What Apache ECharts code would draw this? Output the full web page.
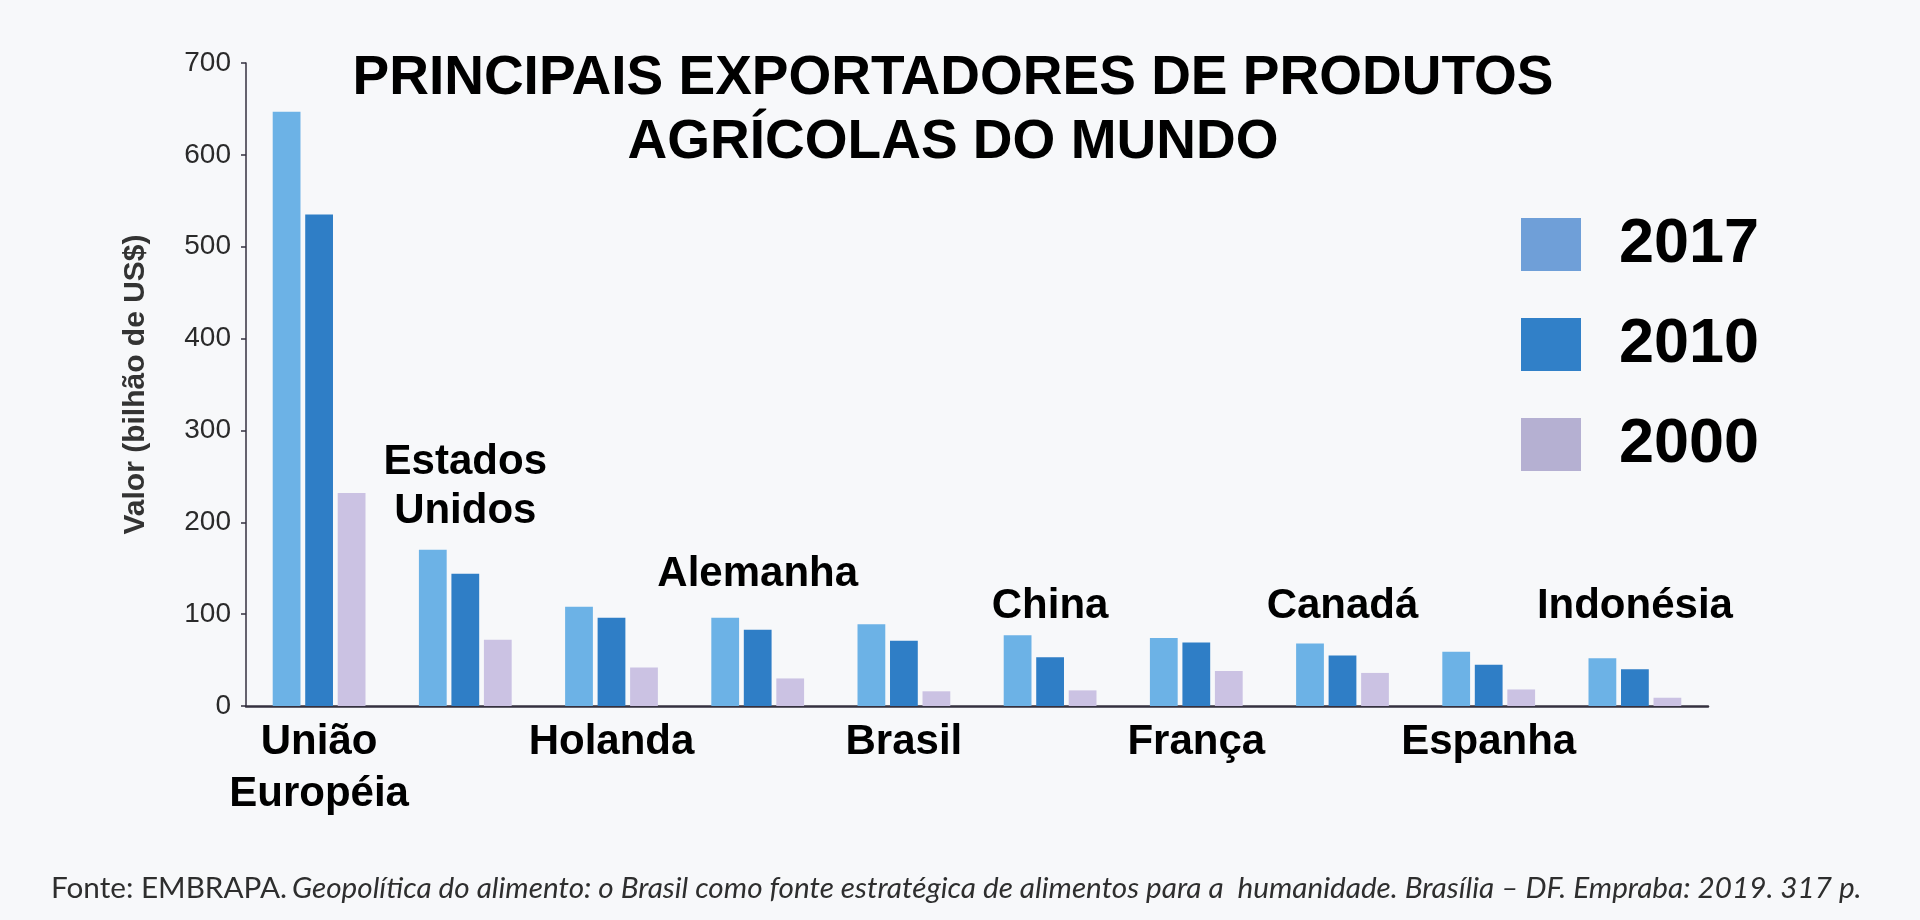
<!DOCTYPE html>
<html lang="pt-BR">
<head>
    <meta charset="UTF-8">
    <title>Principais exportadores de produtos agrícolas do mundo</title>
    <script src="https://cdn.jsdelivr.net/npm/echarts@6/dist/echarts.min.js"></script>
    <style>
        html, body {
            margin: 0;
            padding: 0;
            background-color: #f7f8fa;
        }

        #chart {
            width: 1920px;
            height: 920px;
        }
    </style>
</head>
<body>

<div id="chart"></div>

<script>
    // categorias (países / blocos)
    const paises = ['União Européia', 'Estados Unidos', 'Holanda', 'Alemanha', 'Brasil',
        'China', 'França', 'Canadá', 'Espanha', 'Indonésia'];

    // valores em bilhão de US$
    const valores2017 = [647, 170, 108, 96, 89, 77, 74, 68, 59, 52];
    const valores2010 = [535, 144, 96, 83, 71, 53, 69, 55, 45, 40];
    const valores2000 = [232, 72, 42, 30, 16, 17, 38, 36, 18, 9];

    const anos = ['2017', '2010', '2000'];
    const yTicks = [0, 100, 200, 300, 400, 500, 600, 700];

    // rótulos que ficam acima das barras (os outros ficam embaixo do eixo)
    const rotulosAcima = ['Estados Unidos', 'Alemanha', 'China', 'Canadá', 'Indonésia'];
    // distância (px) entre o topo da barra de 2010 e o rótulo
    const distanciaRotulo = {
        'Estados Unidos': 38,
        'Alemanha': 31,
        'China': 26,
        'Canadá': 25,
        'Indonésia': 38
    };

    const fonte = 'Liberation Sans, Arial, Helvetica, sans-serif';
    const quebra = nome => nome.replace(' ', '\n');

    const chart = echarts.init(document.getElementById('chart'));

    const option = {
        backgroundColor: '#f7f8fa',
        animation: false,
        title: [
            {
                text: 'PRINCIPAIS EXPORTADORES DE PRODUTOS\nAGRÍCOLAS DO MUNDO',
                left: 948,
                top: 42,
                textAlign: 'center',
                textStyle: {
                    fontFamily: fonte,
                    fontSize: 55,
                    fontWeight: 'bold',
                    lineHeight: 64,
                    color: '#000'
                }
            },
            {
                text: '{n|Fonte: EMBRAPA.} {i|Geopolítica do alimento: o Brasil como fonte estratégica de alimentos para a  humanidade. Brasília – DF. Empraba: 2019. 317 p.}',
                left: 46,
                top: 865,
                textStyle: {
                    fontWeight: 'normal',
                    rich: {
                        n: {fontFamily: 'Lato, sans-serif', fontSize: 29.7, fontWeight: 'normal', color: '#2e2e2e', lineHeight: 36},
                        i: {fontFamily: 'Lato, sans-serif', fontSize: 29.7, fontWeight: 'normal', fontStyle: 'italic', color: '#2e2e2e', lineHeight: 36}
                    }
                }
            }
        ],
        legend: {
            orient: 'vertical',
            left: 1516,
            top: 208,
            itemWidth: 60,
            itemHeight: 53,
            itemGap: 37,
            icon: 'rect',
            selectedMode: false,
            data: [
                {name: anos[0], itemStyle: {color: '#6f9fd8'}},
                {name: anos[1], itemStyle: {color: '#3180c8'}},
                {name: anos[2], itemStyle: {color: '#b5b0d2'}}
            ],
            textStyle: {
                fontFamily: fonte,
                fontSize: 63,
                fontWeight: 'bold',
                color: '#000',
                lineHeight: 53,
                padding: [0, 0, 0, 33]
            }
        },
        grid: {
            left: 246,
            right: 212,
            top: 63,
            bottom: 214
        },
        xAxis: {
            type: 'category',
            data: paises,
            axisLine: {lineStyle: {color: '#35313f', width: 2.5}},
            axisTick: {length: 10, lineStyle: {color: '#35313f', width: 2}},
            axisLabel: {
                interval: 0,
                margin: 10,
                fontFamily: fonte,
                fontSize: 42,
                fontWeight: 'bold',
                color: '#000',
                lineHeight: 52,
                formatter: v => rotulosAcima.includes(v) ? '' : quebra(v)
            }
        },
        yAxis: {
            type: 'value',
            min: 0,
            max: 700,
            interval: 100,
            name: 'Valor (bilhão de US$)',
            nameLocation: 'middle',
            nameRotate: 90,
            nameGap: 95,
            nameTextStyle: {
                fontFamily: fonte,
                fontSize: 30,
                fontWeight: 'bold',
                color: '#333'
            },
            splitLine: {show: false},
            axisLine: {show: true, lineStyle: {color: '#35313f', width: 1.5}},
            axisTick: {show: true, length: 5, lineStyle: {color: '#35313f', width: 1.5}},
            axisLabel: {
                margin: 15,
                fontFamily: fonte,
                fontSize: 28,
                color: '#2a2a2a',
                formatter: v => yTicks.includes(v) ? String(v) : ''
            }
        },
        series: [
            {
                name: anos[0],
                type: 'bar',
                data: valores2017,
                barWidth: '19%',
                barGap: '17%',
                itemStyle: {color: '#6cb2e6'}
            },
            {
                name: anos[1],
                type: 'bar',
                data: valores2010.map((v, i) => {
                    const nome = paises[i];
                    if (!rotulosAcima.includes(nome)) return v;
                    return {
                        value: v,
                        label: {
                            show: true,
                            position: 'top',
                            distance: distanciaRotulo[nome],
                            formatter: quebra(nome),
                            fontFamily: fonte,
                            fontSize: 42,
                            fontWeight: 'bold',
                            lineHeight: 49,
                            color: '#000'
                        }
                    };
                }),
                barWidth: '19%',
                itemStyle: {color: '#2f7ec6'}
            },
            {
                name: anos[2],
                type: 'bar',
                data: valores2000,
                barWidth: '19%',
                itemStyle: {color: '#cbc2e3'}
            }
        ]
    };

    chart.setOption(option);
</script>

</body>
</html>
